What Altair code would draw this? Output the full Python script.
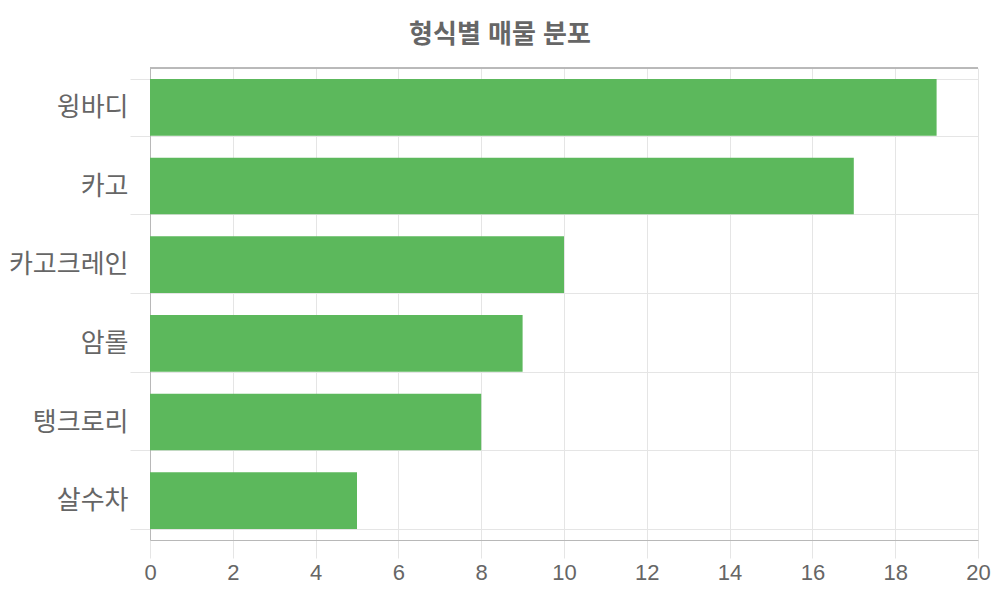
import altair as alt
import pandas as pd

categories = ["윙바디", "카고", "카고크레인", "암롤", "탱크로리", "살수차"]
counts = [19, 17, 10, 9, 8, 5]
x_ticks = list(range(0, 21, 2))

df = pd.DataFrame({"type": categories, "count": counts})

FONT = "Liberation Sans, Noto Sans CJK KR, sans-serif"
GRID = "#e5e5e5"
DOMAIN = "#b8b8b8"

bars = alt.Chart(df).mark_bar(color="#5cb85c").encode(
    y=alt.Y(
        "type:N",
        sort=categories,
        title=None,
        scale=alt.Scale(paddingInner=0.28, paddingOuter=0.14),
        axis=alt.Axis(
            tickBand="extent",
            grid=True,
            gridColor=GRID,
            tickColor=GRID,
            tickSize=20,
            labelPadding=2,
            labelFontSize=26,
            labelColor="#666666",
            labelFont=FONT,
            domainColor=DOMAIN,
        ),
    ),
    x=alt.X(
        "count:Q",
        title=None,
        scale=alt.Scale(domain=[0, 20], nice=False),
        axis=alt.Axis(
            values=x_ticks,
            grid=True,
            gridColor=GRID,
            tickColor=GRID,
            tickSize=18,
            labelPadding=4,
            labelFlush=False,
            labelFontSize=22,
            labelColor="#666666",
            labelFont=FONT,
            domainColor=DOMAIN,
        ),
    ),
)

top_border = alt.Chart(df).mark_rule(color=DOMAIN, strokeWidth=1).encode(
    y=alt.value(0), x=alt.value(0), x2=alt.value(828)
)

chart = (
    alt.layer(bars, top_border)
    .properties(
        width=828,
        height=472,
        padding={"left": 142, "top": 60, "right": 14, "bottom": 52},
        autosize=alt.AutoSizeParams(type="none"),
        title=alt.TitleParams(
            "형식별 매물 분포",
            anchor="middle",
            dx=-64,
            offset=7,
            fontSize=26,
            fontWeight="bold",
            color="#666666",
            font=FONT,
        ),
    )
    .configure_view(stroke=None)
)

chart.save("out.html", embed_options={"renderer": "svg", "actions": False})
